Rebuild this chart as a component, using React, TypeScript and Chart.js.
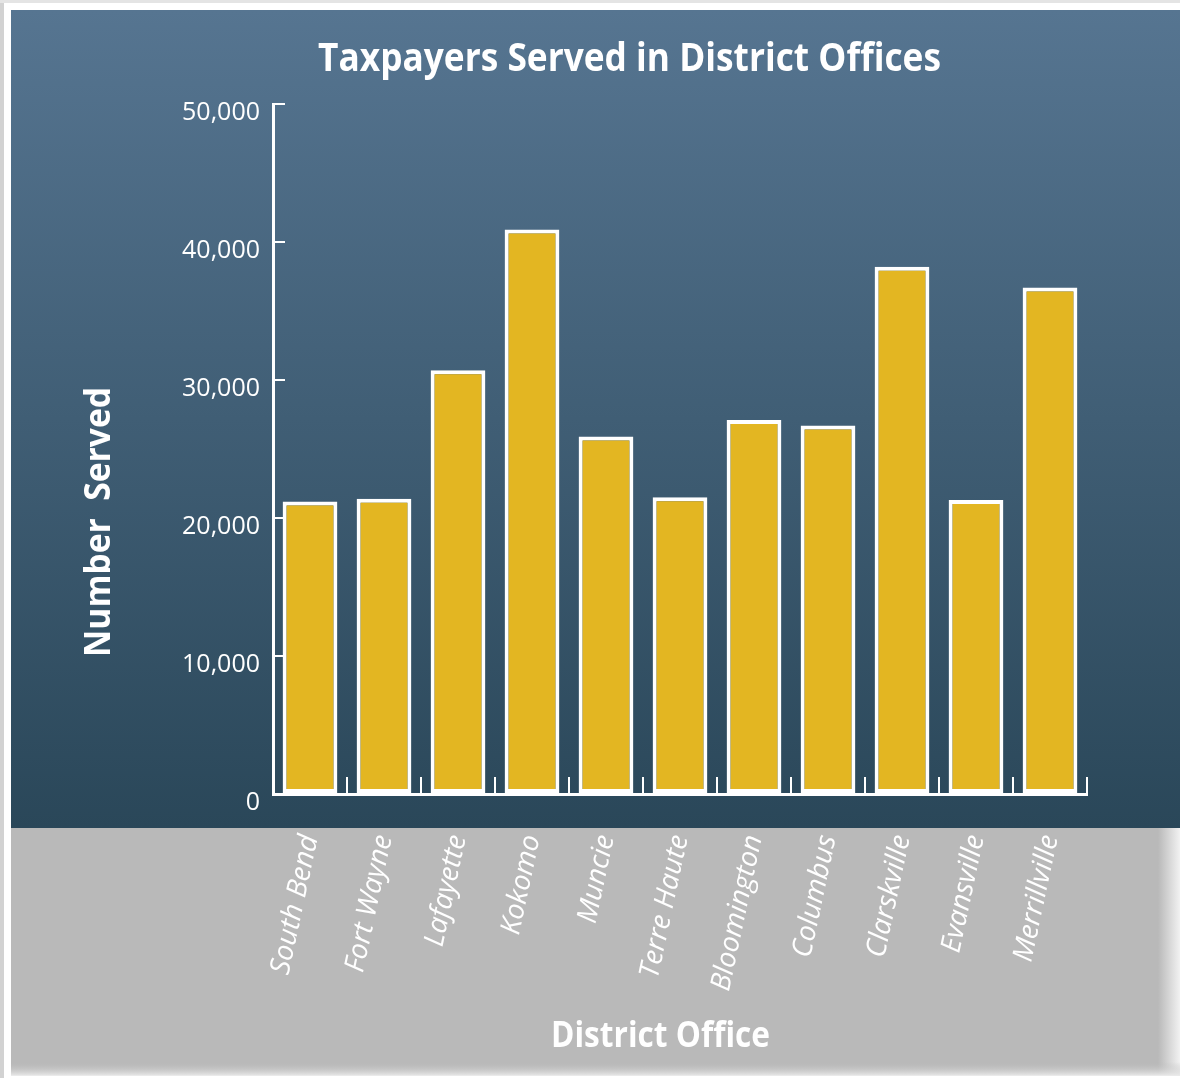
import React, { useEffect, useRef } from "react";
import { Chart, registerables } from "chart.js";

Chart.register(...registerables);

const categories = [
  "South Bend",
  "Fort Wayne",
  "Lafayette",
  "Kokomo",
  "Muncie",
  "Terre Haute",
  "Bloomington",
  "Columbus",
  "Clarskville",
  "Evansville",
  "Merrillville",
];
const served = [21200, 21400, 30700, 40900, 25900, 21500, 27100, 26700, 38200, 21300, 36700];
const yTicks = [0, 10000, 20000, 30000, 40000, 50000];
const chartTitle = "Taxpayers Served in District Offices";
const yTitle = "Number  Served";
const xTitle = "District Office";

const W = 1180;
const H = 1078;

function fitText(ctx: any, text: string, x: number, y: number, target: number, font: string, rot = 0) {
  ctx.save();
  ctx.font = font;
  const w = ctx.measureText(text).width;
  const sx = target / w;
  ctx.translate(x, y);
  ctx.rotate(rot);
  ctx.scale(sx, 1);
  ctx.textAlign = "center";
  ctx.textBaseline = "alphabetic";
  ctx.fillStyle = "#ffffff";
  ctx.fillText(text, 0, 0);
  ctx.restore();
}

const backgroundPlugin = {
  id: "panelBackground",
  beforeDraw(chart: any) {
    const ctx = chart.ctx;
    ctx.save();
    ctx.fillStyle = "#ffffff";
    ctx.fillRect(0, 0, W, H);
    ctx.fillStyle = "#d2d2d2";
    ctx.fillRect(0, 0, 4, H);
    ctx.fillStyle = "#e4e4e4";
    ctx.fillRect(0, 0, W, 3);
    const g = ctx.createLinearGradient(0, 10, 0, 828);
    g.addColorStop(0, "#567591");
    g.addColorStop(1, "#2a4759");
    ctx.fillStyle = g;
    ctx.fillRect(11, 10, W - 11, 818);
    ctx.fillStyle = "#b9b9b9";
    ctx.fillRect(11, 828, 1150, 247);
    const gr = ctx.createLinearGradient(1158, 0, 1180, 0);
    gr.addColorStop(0, "#b9b9b9");
    gr.addColorStop(1, "#f2f2f2");
    ctx.fillStyle = gr;
    ctx.fillRect(1158, 828, 22, 247);
    const gb = ctx.createLinearGradient(0, 1062, 0, 1076);
    gb.addColorStop(0, "rgba(185,185,185,0)");
    gb.addColorStop(1, "rgba(235,235,235,1)");
    ctx.fillStyle = gb;
    ctx.fillRect(11, 1062, 1169, 14);
    ctx.restore();
  },
  afterDraw(chart: any) {
    const ctx = chart.ctx;
    fitText(ctx, chartTitle, 629.5, 71, 623, "bold 39px 'Open Sans'");
    fitText(ctx, yTitle, 110, 522, 270, "bold 36px 'Open Sans'", -Math.PI / 2);
    fitText(ctx, xTitle, 660.5, 1047, 219, "bold 36px 'Open Sans'");
  },
};

export default function App() {
  const ref = useRef<HTMLCanvasElement | null>(null);
  useEffect(() => {
    if (!ref.current) return;
    const chart = new Chart(ref.current, {
      type: "bar",
      data: {
        labels: categories,
        datasets: [
          {
            data: served,
            backgroundColor: "#e3b622",
            borderColor: "#ffffff",
            borderWidth: 4,
            borderSkipped: false,
            categoryPercentage: 1,
            barPercentage: 0.74,
          },
        ],
      },
      options: {
        animation: false,
        responsive: false,
        devicePixelRatio: 1,
        layout: { padding: { top: 104, right: 93, left: 0, bottom: 0 } },
        plugins: {
          legend: { display: false },
          title: { display: false },
          tooltip: { enabled: false },
        },
        scales: {
          x: {
            offset: true,
            grid: {
              offset: true,
              drawOnChartArea: false,
              drawTicks: true,
              tickLength: -17,
              color: "#ffffff",
              lineWidth: 2,
            },
            border: { display: true, color: "#ffffff", width: 3 },
            ticks: {
              color: "#ffffff",
              font: { family: "'Open Sans'", size: 28, style: "italic" },
              minRotation: 78,
              maxRotation: 78,
              autoSkip: false,
              padding: 55,
            },
            afterFit(scale: any) {
              scale.height = 284;
            },
          },
          y: {
            min: 0,
            max: 50000,
            afterBuildTicks(scale: any) {
              scale.ticks = yTicks.map((v) => ({ value: v }));
            },
            grid: {
              drawOnChartArea: false,
              drawTicks: true,
              tickLength: -12,
              color: "#ffffff",
              lineWidth: 2,
            },
            border: { display: true, color: "#ffffff", width: 3 },
            ticks: {
              color: "#ffffff",
              font: { family: "'Open Sans'", size: 25 },
              padding: 25,
              labelOffset: 9,
              callback: (v: any) => Number(v).toLocaleString("en-US"),
            },
            afterFit(scale: any) {
              scale.width = 273;
            },
          },
        },
      },
      plugins: [backgroundPlugin],
    });
    return () => chart.destroy();
  }, []);
  return (
    <div style={{ position: "absolute", left: 0, top: 0, width: W, height: H }}>
      <canvas ref={ref} width={W} height={H} style={{ display: "block" }} />
    </div>
  );
}
